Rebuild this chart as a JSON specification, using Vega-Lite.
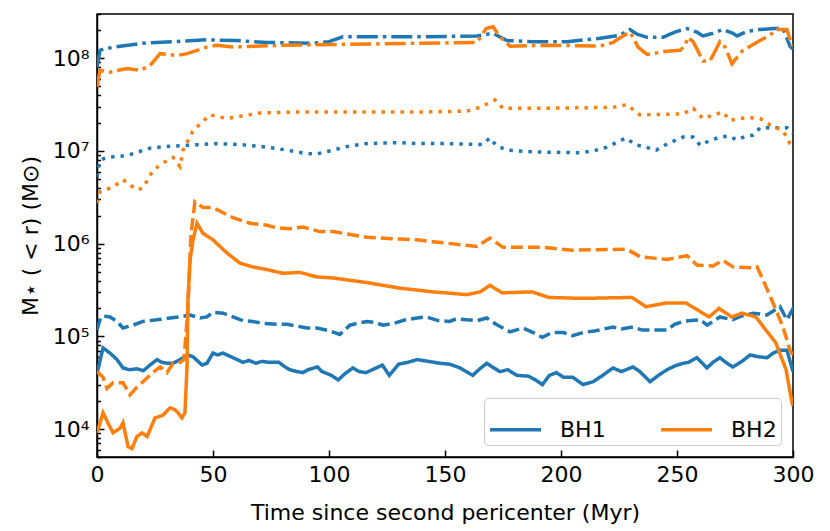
{
  "$schema": "https://vega.github.io/schema/vega-lite/v6.json",
  "width": 696,
  "height": 443,
  "autosize": {"type": "none"},
  "padding": {"left": 97, "top": 14, "right": 37, "bottom": 74},
  "background": "white",
  "config": {
    "font": "DejaVu Sans",
    "view": {"stroke": "black", "strokeWidth": 1.5},
    "axis": {
      "labelFont": "DejaVu Sans",
      "titleFont": "DejaVu Sans",
      "labelFontSize": 22,
      "titleFontSize": 22,
      "titleFontWeight": "normal",
      "labelColor": "black",
      "titleColor": "black",
      "domainColor": "black",
      "domainWidth": 1.5,
      "tickColor": "black",
      "tickWidth": 1.5,
      "labelFlush": false,
      "zindex": 1,
      "grid": false
    },
    "legend": {
      "labelFont": "DejaVu Sans",
      "labelFontSize": 22,
      "labelColor": "black"
    }
  },
  "data": {
    "values": [
      {"bh":"BH1","s":"solid","t":0,"m":3.98e4},{"bh":"BH1","s":"solid","t":2.6,"m":7.5e4},{"bh":"BH1","s":"solid","t":5.6,"m":6.61e4},{"bh":"BH1","s":"solid","t":8.6,"m":5.62e4},{"bh":"BH1","s":"solid","t":11.2,"m":4.57e4},{"bh":"BH1","s":"solid","t":14,"m":4.37e4},{"bh":"BH1","s":"solid","t":17.2,"m":4.47e4},{"bh":"BH1","s":"solid","t":20,"m":4.27e4},{"bh":"BH1","s":"solid","t":22.8,"m":4.9e4},{"bh":"BH1","s":"solid","t":25.9,"m":5.62e4},{"bh":"BH1","s":"solid","t":28,"m":5.25e4},{"bh":"BH1","s":"solid","t":30.2,"m":5.13e4},{"bh":"BH1","s":"solid","t":32.8,"m":5.13e4},{"bh":"BH1","s":"solid","t":35.8,"m":5.62e4},{"bh":"BH1","s":"solid","t":38.8,"m":6.31e4},{"bh":"BH1","s":"solid","t":41.4,"m":6.03e4},{"bh":"BH1","s":"solid","t":45.3,"m":4.9e4},{"bh":"BH1","s":"solid","t":47.4,"m":5.13e4},{"bh":"BH1","s":"solid","t":50,"m":6.61e4},{"bh":"BH1","s":"solid","t":52,"m":6.31e4},{"bh":"BH1","s":"solid","t":54.3,"m":6.61e4},{"bh":"BH1","s":"solid","t":58.6,"m":5.89e4},{"bh":"BH1","s":"solid","t":62.9,"m":5.25e4},{"bh":"BH1","s":"solid","t":65.5,"m":5.5e4},{"bh":"BH1","s":"solid","t":68.5,"m":5.13e4},{"bh":"BH1","s":"solid","t":71,"m":5.37e4},{"bh":"BH1","s":"solid","t":74.1,"m":5.25e4},{"bh":"BH1","s":"solid","t":78.4,"m":5.25e4},{"bh":"BH1","s":"solid","t":80.5,"m":4.79e4},{"bh":"BH1","s":"solid","t":83,"m":4.37e4},{"bh":"BH1","s":"solid","t":86.2,"m":4.17e4},{"bh":"BH1","s":"solid","t":88.8,"m":4.07e4},{"bh":"BH1","s":"solid","t":91,"m":4.37e4},{"bh":"BH1","s":"solid","t":95,"m":4.68e4},{"bh":"BH1","s":"solid","t":97,"m":4.17e4},{"bh":"BH1","s":"solid","t":101,"m":3.8e4},{"bh":"BH1","s":"solid","t":104,"m":3.39e4},{"bh":"BH1","s":"solid","t":107,"m":3.98e4},{"bh":"BH1","s":"solid","t":110.3,"m":4.57e4},{"bh":"BH1","s":"solid","t":113,"m":4.17e4},{"bh":"BH1","s":"solid","t":116,"m":4.07e4},{"bh":"BH1","s":"solid","t":119.5,"m":4.47e4},{"bh":"BH1","s":"solid","t":123,"m":4.9e4},{"bh":"BH1","s":"solid","t":126,"m":3.8e4},{"bh":"BH1","s":"solid","t":130,"m":5.01e4},{"bh":"BH1","s":"solid","t":134,"m":5.25e4},{"bh":"BH1","s":"solid","t":138,"m":5.62e4},{"bh":"BH1","s":"solid","t":143,"m":5.37e4},{"bh":"BH1","s":"solid","t":147.8,"m":5.13e4},{"bh":"BH1","s":"solid","t":152,"m":5.01e4},{"bh":"BH1","s":"solid","t":156.5,"m":4.57e4},{"bh":"BH1","s":"solid","t":162,"m":3.8e4},{"bh":"BH1","s":"solid","t":165,"m":4.47e4},{"bh":"BH1","s":"solid","t":168,"m":5.13e4},{"bh":"BH1","s":"solid","t":171,"m":4.57e4},{"bh":"BH1","s":"solid","t":173.7,"m":4.17e4},{"bh":"BH1","s":"solid","t":177,"m":4.37e4},{"bh":"BH1","s":"solid","t":181,"m":3.8e4},{"bh":"BH1","s":"solid","t":186,"m":3.72e4},{"bh":"BH1","s":"solid","t":189,"m":3.39e4},{"bh":"BH1","s":"solid","t":192,"m":3.02e4},{"bh":"BH1","s":"solid","t":195,"m":3.8e4},{"bh":"BH1","s":"solid","t":198,"m":4.07e4},{"bh":"BH1","s":"solid","t":201,"m":3.63e4},{"bh":"BH1","s":"solid","t":205,"m":3.63e4},{"bh":"BH1","s":"solid","t":209.5,"m":3.02e4},{"bh":"BH1","s":"solid","t":213.8,"m":3.24e4},{"bh":"BH1","s":"solid","t":218,"m":3.8e4},{"bh":"BH1","s":"solid","t":222.4,"m":4.57e4},{"bh":"BH1","s":"solid","t":226,"m":4.17e4},{"bh":"BH1","s":"solid","t":231,"m":4.68e4},{"bh":"BH1","s":"solid","t":234,"m":4.17e4},{"bh":"BH1","s":"solid","t":238.4,"m":3.24e4},{"bh":"BH1","s":"solid","t":242,"m":3.8e4},{"bh":"BH1","s":"solid","t":245.7,"m":4.37e4},{"bh":"BH1","s":"solid","t":249,"m":4.79e4},{"bh":"BH1","s":"solid","t":252.6,"m":5.13e4},{"bh":"BH1","s":"solid","t":255,"m":5.25e4},{"bh":"BH1","s":"solid","t":258.6,"m":5.89e4},{"bh":"BH1","s":"solid","t":262.9,"m":4.57e4},{"bh":"BH1","s":"solid","t":265.5,"m":5.25e4},{"bh":"BH1","s":"solid","t":268.5,"m":5.89e4},{"bh":"BH1","s":"solid","t":271,"m":5.25e4},{"bh":"BH1","s":"solid","t":274,"m":4.68e4},{"bh":"BH1","s":"solid","t":278,"m":5.37e4},{"bh":"BH1","s":"solid","t":281.5,"m":6.31e4},{"bh":"BH1","s":"solid","t":285,"m":6.03e4},{"bh":"BH1","s":"solid","t":288.8,"m":5.89e4},{"bh":"BH1","s":"solid","t":291.5,"m":6.61e4},{"bh":"BH1","s":"solid","t":294.4,"m":7.08e4},{"bh":"BH1","s":"solid","t":297.4,"m":7.08e4},{"bh":"BH1","s":"solid","t":300,"m":4.17e4},

      {"bh":"BH1","s":"dashed","t":0,"m":1.17e5},{"bh":"BH1","s":"dashed","t":1.5,"m":1.58e5},{"bh":"BH1","s":"dashed","t":2.6,"m":1.66e5},{"bh":"BH1","s":"dashed","t":5.6,"m":1.62e5},{"bh":"BH1","s":"dashed","t":8.6,"m":1.45e5},{"bh":"BH1","s":"dashed","t":11.2,"m":1.23e5},{"bh":"BH1","s":"dashed","t":15.5,"m":1.32e5},{"bh":"BH1","s":"dashed","t":19.8,"m":1.45e5},{"bh":"BH1","s":"dashed","t":25.9,"m":1.51e5},{"bh":"BH1","s":"dashed","t":31.5,"m":1.58e5},{"bh":"BH1","s":"dashed","t":35.8,"m":1.62e5},{"bh":"BH1","s":"dashed","t":40.1,"m":1.7e5},{"bh":"BH1","s":"dashed","t":44.4,"m":1.58e5},{"bh":"BH1","s":"dashed","t":47.4,"m":1.62e5},{"bh":"BH1","s":"dashed","t":50,"m":1.82e5},{"bh":"BH1","s":"dashed","t":54.3,"m":1.78e5},{"bh":"BH1","s":"dashed","t":58.6,"m":1.62e5},{"bh":"BH1","s":"dashed","t":62.9,"m":1.48e5},{"bh":"BH1","s":"dashed","t":67,"m":1.45e5},{"bh":"BH1","s":"dashed","t":71.6,"m":1.38e5},{"bh":"BH1","s":"dashed","t":77.6,"m":1.35e5},{"bh":"BH1","s":"dashed","t":82,"m":1.35e5},{"bh":"BH1","s":"dashed","t":86.2,"m":1.29e5},{"bh":"BH1","s":"dashed","t":90.5,"m":1.23e5},{"bh":"BH1","s":"dashed","t":94.8,"m":1.23e5},{"bh":"BH1","s":"dashed","t":100,"m":1.15e5},{"bh":"BH1","s":"dashed","t":104.7,"m":1.05e5},{"bh":"BH1","s":"dashed","t":109,"m":1.32e5},{"bh":"BH1","s":"dashed","t":112,"m":1.38e5},{"bh":"BH1","s":"dashed","t":116.4,"m":1.45e5},{"bh":"BH1","s":"dashed","t":120,"m":1.41e5},{"bh":"BH1","s":"dashed","t":123.3,"m":1.32e5},{"bh":"BH1","s":"dashed","t":128,"m":1.38e5},{"bh":"BH1","s":"dashed","t":133,"m":1.51e5},{"bh":"BH1","s":"dashed","t":138,"m":1.58e5},{"bh":"BH1","s":"dashed","t":142,"m":1.62e5},{"bh":"BH1","s":"dashed","t":147,"m":1.48e5},{"bh":"BH1","s":"dashed","t":152,"m":1.45e5},{"bh":"BH1","s":"dashed","t":155,"m":1.55e5},{"bh":"BH1","s":"dashed","t":159.5,"m":1.51e5},{"bh":"BH1","s":"dashed","t":164,"m":1.48e5},{"bh":"BH1","s":"dashed","t":168,"m":1.58e5},{"bh":"BH1","s":"dashed","t":172,"m":1.35e5},{"bh":"BH1","s":"dashed","t":178,"m":1.12e5},{"bh":"BH1","s":"dashed","t":183.6,"m":1.23e5},{"bh":"BH1","s":"dashed","t":188,"m":1.1e5},{"bh":"BH1","s":"dashed","t":192,"m":9.77e4},{"bh":"BH1","s":"dashed","t":196,"m":1.1e5},{"bh":"BH1","s":"dashed","t":200.9,"m":1.1e5},{"bh":"BH1","s":"dashed","t":205,"m":1.02e5},{"bh":"BH1","s":"dashed","t":209.5,"m":1.1e5},{"bh":"BH1","s":"dashed","t":215,"m":1.15e5},{"bh":"BH1","s":"dashed","t":222.4,"m":1.26e5},{"bh":"BH1","s":"dashed","t":226,"m":1.2e5},{"bh":"BH1","s":"dashed","t":231,"m":1.26e5},{"bh":"BH1","s":"dashed","t":235,"m":1.17e5},{"bh":"BH1","s":"dashed","t":239.7,"m":1.17e5},{"bh":"BH1","s":"dashed","t":245.7,"m":1.17e5},{"bh":"BH1","s":"dashed","t":249,"m":1.35e5},{"bh":"BH1","s":"dashed","t":252.6,"m":1.45e5},{"bh":"BH1","s":"dashed","t":256,"m":1.48e5},{"bh":"BH1","s":"dashed","t":260,"m":1.51e5},{"bh":"BH1","s":"dashed","t":263,"m":1.32e5},{"bh":"BH1","s":"dashed","t":268.5,"m":1.62e5},{"bh":"BH1","s":"dashed","t":274,"m":1.51e5},{"bh":"BH1","s":"dashed","t":278,"m":1.66e5},{"bh":"BH1","s":"dashed","t":282.8,"m":1.78e5},{"bh":"BH1","s":"dashed","t":288.8,"m":1.7e5},{"bh":"BH1","s":"dashed","t":294.4,"m":2.09e5},{"bh":"BH1","s":"dashed","t":297.4,"m":1.51e5},{"bh":"BH1","s":"dashed","t":299.6,"m":1.91e5},{"bh":"BH1","s":"dashed","t":300,"m":1.58e5},

      {"bh":"BH1","s":"dotted","t":0,"m":5.25e6},{"bh":"BH1","s":"dotted","t":1.3,"m":7.94e6},{"bh":"BH1","s":"dotted","t":4.3,"m":8.51e6},{"bh":"BH1","s":"dotted","t":12.9,"m":8.91e6},{"bh":"BH1","s":"dotted","t":22.8,"m":1.07e7},{"bh":"BH1","s":"dotted","t":30,"m":1.12e7},{"bh":"BH1","s":"dotted","t":38.8,"m":1.15e7},{"bh":"BH1","s":"dotted","t":51.7,"m":1.2e7},{"bh":"BH1","s":"dotted","t":62,"m":1.17e7},{"bh":"BH1","s":"dotted","t":73.3,"m":1.1e7},{"bh":"BH1","s":"dotted","t":82,"m":1.02e7},{"bh":"BH1","s":"dotted","t":90.5,"m":9.33e6},{"bh":"BH1","s":"dotted","t":95,"m":9.33e6},{"bh":"BH1","s":"dotted","t":101.7,"m":1.02e7},{"bh":"BH1","s":"dotted","t":108,"m":1.12e7},{"bh":"BH1","s":"dotted","t":116.4,"m":1.2e7},{"bh":"BH1","s":"dotted","t":130.6,"m":1.23e7},{"bh":"BH1","s":"dotted","t":138,"m":1.2e7},{"bh":"BH1","s":"dotted","t":150,"m":1.2e7},{"bh":"BH1","s":"dotted","t":166,"m":1.17e7},{"bh":"BH1","s":"dotted","t":169.4,"m":1.38e7},{"bh":"BH1","s":"dotted","t":172,"m":1.15e7},{"bh":"BH1","s":"dotted","t":176.7,"m":1.02e7},{"bh":"BH1","s":"dotted","t":188,"m":9.77e6},{"bh":"BH1","s":"dotted","t":208,"m":9.55e6},{"bh":"BH1","s":"dotted","t":214,"m":1.0e7},{"bh":"BH1","s":"dotted","t":219.8,"m":1.1e7},{"bh":"BH1","s":"dotted","t":228,"m":1.38e7},{"bh":"BH1","s":"dotted","t":232,"m":1.17e7},{"bh":"BH1","s":"dotted","t":236.6,"m":1.1e7},{"bh":"BH1","s":"dotted","t":241,"m":1.02e7},{"bh":"BH1","s":"dotted","t":246,"m":1.2e7},{"bh":"BH1","s":"dotted","t":252.6,"m":1.41e7},{"bh":"BH1","s":"dotted","t":257,"m":1.41e7},{"bh":"BH1","s":"dotted","t":260,"m":1.15e7},{"bh":"BH1","s":"dotted","t":264,"m":1.29e7},{"bh":"BH1","s":"dotted","t":268.5,"m":1.41e7},{"bh":"BH1","s":"dotted","t":272,"m":1.45e7},{"bh":"BH1","s":"dotted","t":275.9,"m":1.32e7},{"bh":"BH1","s":"dotted","t":280,"m":1.45e7},{"bh":"BH1","s":"dotted","t":282.8,"m":1.48e7},{"bh":"BH1","s":"dotted","t":285.8,"m":1.78e7},{"bh":"BH1","s":"dotted","t":291.4,"m":1.78e7},{"bh":"BH1","s":"dotted","t":297.4,"m":1.78e7},{"bh":"BH1","s":"dotted","t":300,"m":1.55e7},

      {"bh":"BH1","s":"dashdot","t":0,"m":7.94e7},{"bh":"BH1","s":"dashdot","t":1.3,"m":1.22e8},{"bh":"BH1","s":"dashdot","t":3,"m":1.26e8},{"bh":"BH1","s":"dashdot","t":10,"m":1.35e8},{"bh":"BH1","s":"dashdot","t":19.8,"m":1.45e8},{"bh":"BH1","s":"dashdot","t":33,"m":1.51e8},{"bh":"BH1","s":"dashdot","t":47.4,"m":1.58e8},{"bh":"BH1","s":"dashdot","t":60,"m":1.55e8},{"bh":"BH1","s":"dashdot","t":73.3,"m":1.48e8},{"bh":"BH1","s":"dashdot","t":93.1,"m":1.45e8},{"bh":"BH1","s":"dashdot","t":100,"m":1.51e8},{"bh":"BH1","s":"dashdot","t":106,"m":1.7e8},{"bh":"BH1","s":"dashdot","t":120,"m":1.7e8},{"bh":"BH1","s":"dashdot","t":138,"m":1.7e8},{"bh":"BH1","s":"dashdot","t":163.8,"m":1.74e8},{"bh":"BH1","s":"dashdot","t":170.7,"m":1.86e8},{"bh":"BH1","s":"dashdot","t":176.7,"m":1.55e8},{"bh":"BH1","s":"dashdot","t":188,"m":1.51e8},{"bh":"BH1","s":"dashdot","t":202.6,"m":1.51e8},{"bh":"BH1","s":"dashdot","t":216.8,"m":1.64e8},{"bh":"BH1","s":"dashdot","t":225.4,"m":1.77e8},{"bh":"BH1","s":"dashdot","t":229.7,"m":2.04e8},{"bh":"BH1","s":"dashdot","t":232.8,"m":1.82e8},{"bh":"BH1","s":"dashdot","t":237.1,"m":1.68e8},{"bh":"BH1","s":"dashdot","t":244,"m":1.68e8},{"bh":"BH1","s":"dashdot","t":247,"m":1.82e8},{"bh":"BH1","s":"dashdot","t":250,"m":1.95e8},{"bh":"BH1","s":"dashdot","t":254.3,"m":2.09e8},{"bh":"BH1","s":"dashdot","t":258.6,"m":1.91e8},{"bh":"BH1","s":"dashdot","t":261.2,"m":1.74e8},{"bh":"BH1","s":"dashdot","t":265.5,"m":1.86e8},{"bh":"BH1","s":"dashdot","t":269.8,"m":2.04e8},{"bh":"BH1","s":"dashdot","t":274.1,"m":1.86e8},{"bh":"BH1","s":"dashdot","t":275.9,"m":1.74e8},{"bh":"BH1","s":"dashdot","t":280.2,"m":1.95e8},{"bh":"BH1","s":"dashdot","t":285.8,"m":2.04e8},{"bh":"BH1","s":"dashdot","t":291.4,"m":2.09e8},{"bh":"BH1","s":"dashdot","t":295.7,"m":2.09e8},{"bh":"BH1","s":"dashdot","t":298.7,"m":1.35e8},{"bh":"BH1","s":"dashdot","t":300,"m":1.26e8},

      {"bh":"BH2","s":"solid","t":0,"m":9.12e3},{"bh":"BH2","s":"solid","t":2.6,"m":1.5e4},{"bh":"BH2","s":"solid","t":4.7,"m":1.17e4},{"bh":"BH2","s":"solid","t":6.9,"m":9.12e3},{"bh":"BH2","s":"solid","t":9.9,"m":1.02e4},{"bh":"BH2","s":"solid","t":11.2,"m":1.17e4},{"bh":"BH2","s":"solid","t":13.4,"m":6.46e3},{"bh":"BH2","s":"solid","t":15.1,"m":6.17e3},{"bh":"BH2","s":"solid","t":17.2,"m":8.32e3},{"bh":"BH2","s":"solid","t":19.4,"m":9.12e3},{"bh":"BH2","s":"solid","t":21.6,"m":8.32e3},{"bh":"BH2","s":"solid","t":25,"m":1.32e4},{"bh":"BH2","s":"solid","t":28.4,"m":1.41e4},{"bh":"BH2","s":"solid","t":31.5,"m":1.7e4},{"bh":"BH2","s":"solid","t":33.6,"m":1.62e4},{"bh":"BH2","s":"solid","t":34.9,"m":1.5e4},{"bh":"BH2","s":"solid","t":36.6,"m":1.32e4},{"bh":"BH2","s":"solid","t":37.9,"m":1.5e4},{"bh":"BH2","s":"solid","t":38.8,"m":4.68e4},{"bh":"BH2","s":"solid","t":39.2,"m":2.51e5},{"bh":"BH2","s":"solid","t":40.1,"m":6.61e5},{"bh":"BH2","s":"solid","t":41.4,"m":1.1e6},{"bh":"BH2","s":"solid","t":43.1,"m":1.66e6},{"bh":"BH2","s":"solid","t":45.7,"m":1.29e6},{"bh":"BH2","s":"solid","t":50,"m":1.1e6},{"bh":"BH2","s":"solid","t":56,"m":7.94e5},{"bh":"BH2","s":"solid","t":61.6,"m":6.17e5},{"bh":"BH2","s":"solid","t":67,"m":5.62e5},{"bh":"BH2","s":"solid","t":73.3,"m":5.25e5},{"bh":"BH2","s":"solid","t":80.2,"m":4.79e5},{"bh":"BH2","s":"solid","t":87.5,"m":4.9e5},{"bh":"BH2","s":"solid","t":94.8,"m":4.37e5},{"bh":"BH2","s":"solid","t":101.7,"m":4.27e5},{"bh":"BH2","s":"solid","t":116.4,"m":3.8e5},{"bh":"BH2","s":"solid","t":130.6,"m":3.31e5},{"bh":"BH2","s":"solid","t":138,"m":3.16e5},{"bh":"BH2","s":"solid","t":144.8,"m":3.02e5},{"bh":"BH2","s":"solid","t":159.5,"m":2.82e5},{"bh":"BH2","s":"solid","t":165.1,"m":3.02e5},{"bh":"BH2","s":"solid","t":169.4,"m":3.55e5},{"bh":"BH2","s":"solid","t":174.6,"m":2.95e5},{"bh":"BH2","s":"solid","t":187.5,"m":3.02e5},{"bh":"BH2","s":"solid","t":194.8,"m":2.63e5},{"bh":"BH2","s":"solid","t":209,"m":2.57e5},{"bh":"BH2","s":"solid","t":230.6,"m":2.63e5},{"bh":"BH2","s":"solid","t":236.6,"m":2.09e5},{"bh":"BH2","s":"solid","t":245.3,"m":2.29e5},{"bh":"BH2","s":"solid","t":253.9,"m":2.29e5},{"bh":"BH2","s":"solid","t":263.8,"m":1.62e5},{"bh":"BH2","s":"solid","t":268.1,"m":2.0e5},{"bh":"BH2","s":"solid","t":273.7,"m":1.62e5},{"bh":"BH2","s":"solid","t":278,"m":1.78e5},{"bh":"BH2","s":"solid","t":284,"m":1.62e5},{"bh":"BH2","s":"solid","t":288.3,"m":1.17e5},{"bh":"BH2","s":"solid","t":292.6,"m":8.51e4},{"bh":"BH2","s":"solid","t":297,"m":4.37e4},{"bh":"BH2","s":"solid","t":299.6,"m":1.91e4},{"bh":"BH2","s":"solid","t":300,"m":1.78e4},

      {"bh":"BH2","s":"dashed","t":0,"m":4.17e4},{"bh":"BH2","s":"dashed","t":2.6,"m":3.63e4},{"bh":"BH2","s":"dashed","t":4.3,"m":2.75e4},{"bh":"BH2","s":"dashed","t":6.9,"m":3.16e4},{"bh":"BH2","s":"dashed","t":11.2,"m":3.16e4},{"bh":"BH2","s":"dashed","t":14.2,"m":2.34e4},{"bh":"BH2","s":"dashed","t":17.2,"m":2.82e4},{"bh":"BH2","s":"dashed","t":19.8,"m":3.24e4},{"bh":"BH2","s":"dashed","t":24.1,"m":4.07e4},{"bh":"BH2","s":"dashed","t":27.2,"m":4.68e4},{"bh":"BH2","s":"dashed","t":30.2,"m":4.07e4},{"bh":"BH2","s":"dashed","t":32.8,"m":5.13e4},{"bh":"BH2","s":"dashed","t":35.8,"m":5.25e4},{"bh":"BH2","s":"dashed","t":37.5,"m":5.62e4},{"bh":"BH2","s":"dashed","t":39.2,"m":2.0e5},{"bh":"BH2","s":"dashed","t":40.5,"m":1.26e6},{"bh":"BH2","s":"dashed","t":42.2,"m":2.82e6},{"bh":"BH2","s":"dashed","t":45.7,"m":2.45e6},{"bh":"BH2","s":"dashed","t":50,"m":2.45e6},{"bh":"BH2","s":"dashed","t":58.6,"m":1.91e6},{"bh":"BH2","s":"dashed","t":66,"m":1.66e6},{"bh":"BH2","s":"dashed","t":73.3,"m":1.58e6},{"bh":"BH2","s":"dashed","t":77.6,"m":1.48e6},{"bh":"BH2","s":"dashed","t":83.2,"m":1.45e6},{"bh":"BH2","s":"dashed","t":88.8,"m":1.51e6},{"bh":"BH2","s":"dashed","t":96.1,"m":1.35e6},{"bh":"BH2","s":"dashed","t":101.7,"m":1.35e6},{"bh":"BH2","s":"dashed","t":116.4,"m":1.17e6},{"bh":"BH2","s":"dashed","t":130.6,"m":1.12e6},{"bh":"BH2","s":"dashed","t":138,"m":1.1e6},{"bh":"BH2","s":"dashed","t":144.8,"m":1.05e6},{"bh":"BH2","s":"dashed","t":163.8,"m":9.33e5},{"bh":"BH2","s":"dashed","t":169.4,"m":1.15e6},{"bh":"BH2","s":"dashed","t":175,"m":9.12e5},{"bh":"BH2","s":"dashed","t":192.2,"m":9.12e5},{"bh":"BH2","s":"dashed","t":205,"m":8.51e5},{"bh":"BH2","s":"dashed","t":228.4,"m":8.71e5},{"bh":"BH2","s":"dashed","t":234,"m":7.24e5},{"bh":"BH2","s":"dashed","t":245.7,"m":6.76e5},{"bh":"BH2","s":"dashed","t":254.3,"m":7.41e5},{"bh":"BH2","s":"dashed","t":258.6,"m":5.89e5},{"bh":"BH2","s":"dashed","t":265.5,"m":5.75e5},{"bh":"BH2","s":"dashed","t":269.8,"m":6.61e5},{"bh":"BH2","s":"dashed","t":274.1,"m":5.62e5},{"bh":"BH2","s":"dashed","t":282.8,"m":5.5e5},{"bh":"BH2","s":"dashed","t":284.5,"m":5.62e5},{"bh":"BH2","s":"dashed","t":287.1,"m":4.07e5},{"bh":"BH2","s":"dashed","t":291.4,"m":2.29e5},{"bh":"BH2","s":"dashed","t":295.7,"m":1.26e5},{"bh":"BH2","s":"dashed","t":298.7,"m":7.08e4},{"bh":"BH2","s":"dashed","t":300,"m":6.31e4},

      {"bh":"BH2","s":"dotted","t":0,"m":2.75e6},{"bh":"BH2","s":"dotted","t":1.3,"m":3.63e6},{"bh":"BH2","s":"dotted","t":6.9,"m":4.07e6},{"bh":"BH2","s":"dotted","t":11.2,"m":4.9e6},{"bh":"BH2","s":"dotted","t":17.2,"m":3.8e6},{"bh":"BH2","s":"dotted","t":19.8,"m":3.98e6},{"bh":"BH2","s":"dotted","t":24.1,"m":6.17e6},{"bh":"BH2","s":"dotted","t":28.4,"m":7.41e6},{"bh":"BH2","s":"dotted","t":32.8,"m":8.51e6},{"bh":"BH2","s":"dotted","t":35.8,"m":6.76e6},{"bh":"BH2","s":"dotted","t":37.1,"m":1.02e7},{"bh":"BH2","s":"dotted","t":41.4,"m":1.66e7},{"bh":"BH2","s":"dotted","t":48.7,"m":2.45e7},{"bh":"BH2","s":"dotted","t":56,"m":2.24e7},{"bh":"BH2","s":"dotted","t":70.3,"m":2.57e7},{"bh":"BH2","s":"dotted","t":87.5,"m":2.63e7},{"bh":"BH2","s":"dotted","t":138,"m":2.63e7},{"bh":"BH2","s":"dotted","t":159.5,"m":2.69e7},{"bh":"BH2","s":"dotted","t":165.1,"m":2.95e7},{"bh":"BH2","s":"dotted","t":171.6,"m":3.55e7},{"bh":"BH2","s":"dotted","t":175,"m":2.88e7},{"bh":"BH2","s":"dotted","t":188,"m":2.88e7},{"bh":"BH2","s":"dotted","t":222.4,"m":2.95e7},{"bh":"BH2","s":"dotted","t":228.4,"m":3.16e7},{"bh":"BH2","s":"dotted","t":234,"m":2.45e7},{"bh":"BH2","s":"dotted","t":252.6,"m":2.51e7},{"bh":"BH2","s":"dotted","t":257,"m":2.88e7},{"bh":"BH2","s":"dotted","t":261.2,"m":2.24e7},{"bh":"BH2","s":"dotted","t":269.8,"m":2.63e7},{"bh":"BH2","s":"dotted","t":272.8,"m":2.14e7},{"bh":"BH2","s":"dotted","t":280.2,"m":2.29e7},{"bh":"BH2","s":"dotted","t":285.8,"m":2.24e7},{"bh":"BH2","s":"dotted","t":290.1,"m":1.91e7},{"bh":"BH2","s":"dotted","t":295.7,"m":1.66e7},{"bh":"BH2","s":"dotted","t":298.7,"m":1.2e7},{"bh":"BH2","s":"dotted","t":300,"m":1.12e7},

      {"bh":"BH2","s":"dashdot","t":0,"m":4.9e7},{"bh":"BH2","s":"dashdot","t":1.3,"m":7.41e7},{"bh":"BH2","s":"dashdot","t":5.6,"m":7.08e7},{"bh":"BH2","s":"dashdot","t":12.9,"m":7.76e7},{"bh":"BH2","s":"dashdot","t":18.5,"m":7.41e7},{"bh":"BH2","s":"dashdot","t":22.8,"m":8.32e7},{"bh":"BH2","s":"dashdot","t":27.2,"m":1.12e8},{"bh":"BH2","s":"dashdot","t":34.5,"m":1.07e8},{"bh":"BH2","s":"dashdot","t":38.8,"m":1.12e8},{"bh":"BH2","s":"dashdot","t":47.4,"m":1.32e8},{"bh":"BH2","s":"dashdot","t":51.7,"m":1.38e8},{"bh":"BH2","s":"dashdot","t":58.6,"m":1.32e8},{"bh":"BH2","s":"dashdot","t":80.2,"m":1.38e8},{"bh":"BH2","s":"dashdot","t":138,"m":1.45e8},{"bh":"BH2","s":"dashdot","t":163.8,"m":1.48e8},{"bh":"BH2","s":"dashdot","t":167.7,"m":2.09e8},{"bh":"BH2","s":"dashdot","t":170.7,"m":2.19e8},{"bh":"BH2","s":"dashdot","t":173.7,"m":1.7e8},{"bh":"BH2","s":"dashdot","t":178,"m":1.35e8},{"bh":"BH2","s":"dashdot","t":195.3,"m":1.38e8},{"bh":"BH2","s":"dashdot","t":216.8,"m":1.35e8},{"bh":"BH2","s":"dashdot","t":222.4,"m":1.48e8},{"bh":"BH2","s":"dashdot","t":226.7,"m":1.74e8},{"bh":"BH2","s":"dashdot","t":229.7,"m":1.91e8},{"bh":"BH2","s":"dashdot","t":231,"m":1.68e8},{"bh":"BH2","s":"dashdot","t":233.2,"m":1.32e8},{"bh":"BH2","s":"dashdot","t":237.1,"m":1.1e8},{"bh":"BH2","s":"dashdot","t":245.7,"m":1.19e8},{"bh":"BH2","s":"dashdot","t":251.3,"m":1.22e8},{"bh":"BH2","s":"dashdot","t":253.4,"m":1.35e8},{"bh":"BH2","s":"dashdot","t":254.7,"m":1.68e8},{"bh":"BH2","s":"dashdot","t":256.9,"m":1.51e8},{"bh":"BH2","s":"dashdot","t":258.6,"m":1.26e8},{"bh":"BH2","s":"dashdot","t":261.2,"m":9.33e7},{"bh":"BH2","s":"dashdot","t":264.2,"m":9.33e7},{"bh":"BH2","s":"dashdot","t":266.4,"m":1.19e8},{"bh":"BH2","s":"dashdot","t":268.5,"m":1.51e8},{"bh":"BH2","s":"dashdot","t":270.7,"m":1.32e8},{"bh":"BH2","s":"dashdot","t":273.7,"m":8.71e7},{"bh":"BH2","s":"dashdot","t":275.9,"m":1.02e8},{"bh":"BH2","s":"dashdot","t":278,"m":1.19e8},{"bh":"BH2","s":"dashdot","t":281.5,"m":1.35e8},{"bh":"BH2","s":"dashdot","t":285.8,"m":1.55e8},{"bh":"BH2","s":"dashdot","t":290.1,"m":1.78e8},{"bh":"BH2","s":"dashdot","t":293.1,"m":2.04e8},{"bh":"BH2","s":"dashdot","t":297.4,"m":2.04e8},{"bh":"BH2","s":"dashdot","t":299.6,"m":1.35e8}
    ]
  },
  "mark": {"type": "line", "strokeWidth": 3.5, "clip": true, "strokeCap": "butt"},
  "encoding": {
    "x": {
      "field": "t",
      "type": "quantitative",
      "scale": {"domain": [0, 300], "nice": false, "zero": false},
      "axis": {
        "title": "Time since second pericenter (Myr)",
        "values": [0, 50, 100, 150, 200, 250, 300],
        "tickSize": -7,
        "labelPadding": 14,
        "titlePadding": 17
      }
    },
    "y": {
      "field": "m",
      "type": "quantitative",
      "scale": {"type": "log", "domain": [5000, 3e8], "nice": false},
      "axis": {
        "title": "M⋆ ( < r) (M⊙)",
        "values": [5e3, 6e3, 7e3, 8e3, 9e3, 1e4, 2e4, 3e4, 4e4, 5e4, 6e4, 7e4, 8e4, 9e4, 1e5, 2e5, 3e5, 4e5, 5e5, 6e5, 7e5, 8e5, 9e5, 1e6, 2e6, 3e6, 4e6, 5e6, 6e6, 7e6, 8e6, 9e6, 1e7, 2e7, 3e7, 4e7, 5e7, 6e7, 7e7, 8e7, 9e7, 1e8, 2e8, 3e8],
        "labelExpr": "datum.value == 1e4 ? '10⁴' : datum.value == 1e5 ? '10⁵' : datum.value == 1e6 ? '10⁶' : datum.value == 1e7 ? '10⁷' : datum.value == 1e8 ? '10⁸' : ''",
        "tickSize": {"condition": {"test": "indexof([10000, 100000, 1000000, 10000000, 100000000], datum.value) >= 0", "value": -7}, "value": -3.5},
        "labelPadding": 15,
        "labelOverlap": false,
        "titlePadding": 10
      }
    },
    "color": {
      "field": "bh",
      "type": "nominal",
      "scale": {"domain": ["BH1", "BH2"], "range": ["#1f77b4", "#ff7f0e"]},
      "legend": {
        "title": null,
        "orient": "bottom-right",
        "offset": 12,
        "direction": "horizontal",
        "columns": 2,
        "columnPadding": 48,
        "symbolType": "stroke",
        "symbolSize": 2600,
        "symbolStrokeWidth": 3.5,
        "labelOffset": 17,
        "padding": 4,
        "strokeColor": "#cccccc",
        "fillColor": "white",
        "cornerRadius": 4
      }
    },
    "strokeDash": {
      "field": "s",
      "type": "nominal",
      "scale": {"domain": ["solid", "dashed", "dotted", "dashdot"], "range": [[1, 0], [12, 5], [3.5, 6], [21, 5, 3.5, 5]]},
      "legend": null
    }
  }
}
